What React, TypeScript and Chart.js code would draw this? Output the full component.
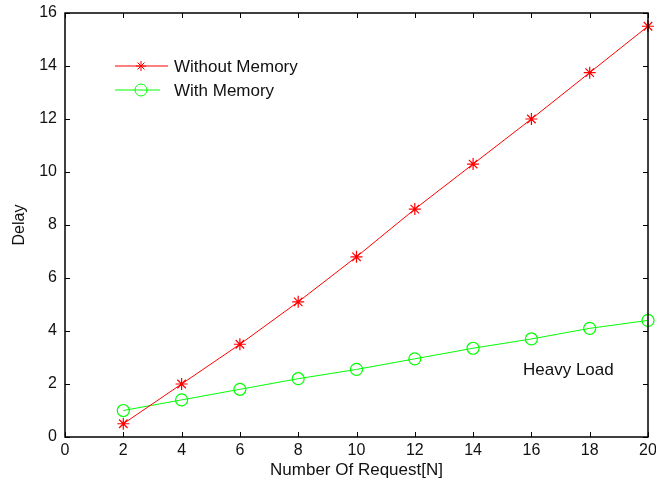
import React, { useEffect, useRef } from "react";
import { Chart, registerables } from "chart.js";

Chart.register(...registerables);

const requests = [2, 4, 6, 8, 10, 12, 14, 16, 18, 20];
const withoutMemory = [0.5, 2.0, 3.5, 5.1, 6.8, 8.6, 10.3, 12.0, 13.75, 15.5];
const withMemory = [1.0, 1.4, 1.8, 2.2, 2.55, 2.95, 3.35, 3.7, 4.1, 4.4];
const xTicks = [0, 2, 4, 6, 8, 10, 12, 14, 16, 18, 20];
const yTicks = [0, 2, 4, 6, 8, 10, 12, 14, 16];
const seriesNames = ["Without Memory", "With Memory"];
const annotationText = "Heavy Load";

const FONT = "'Liberation Sans', Arial, Helvetica, sans-serif";

const framePlugin = {
  id: "frame",
  afterDraw(chart: any) {
    const { ctx, chartArea, scales } = chart;
    const { left, right, top, bottom } = chartArea;
    ctx.save();
    ctx.strokeStyle = "#000";
    ctx.lineWidth = 1;
    const tl = 5;
    ctx.beginPath();
    xTicks.forEach((v) => {
      const px = Math.round(scales.x.getPixelForValue(v)) + 0.5;
      ctx.moveTo(px, bottom);
      ctx.lineTo(px, bottom - tl);
      ctx.moveTo(px, top);
      ctx.lineTo(px, top + tl);
    });
    yTicks.forEach((v) => {
      const py = Math.round(scales.y.getPixelForValue(v)) + 0.5;
      ctx.moveTo(left, py);
      ctx.lineTo(left + tl, py);
      ctx.moveTo(right, py);
      ctx.lineTo(right - tl, py);
    });
    ctx.stroke();
    ctx.lineWidth = 1.5;
    ctx.strokeRect(left, top, right - left, bottom - top);

    // legend
    ctx.font = `17px ${FONT}`;
    ctx.textBaseline = "middle";
    ctx.fillStyle = "#000";
    const rows = [
      { y: 66, x1: 115, x2: 168, color: "#ff0000", star: true, label: seriesNames[0] },
      { y: 90, x1: 115, x2: 160, color: "#00ff00", star: false, label: seriesNames[1] },
    ];
    rows.forEach((r) => {
      ctx.strokeStyle = r.color;
      ctx.lineWidth = 1;
      ctx.beginPath();
      ctx.moveTo(r.x1, r.y);
      ctx.lineTo(r.x2, r.y);
      ctx.stroke();
      const mx = 141;
      ctx.beginPath();
      if (r.star) {
        const s = 5;
        ctx.moveTo(mx - s, r.y);
        ctx.lineTo(mx + s, r.y);
        ctx.moveTo(mx, r.y - s);
        ctx.lineTo(mx, r.y + s);
        const d = s * 0.7;
        ctx.moveTo(mx - d, r.y - d);
        ctx.lineTo(mx + d, r.y + d);
        ctx.moveTo(mx - d, r.y + d);
        ctx.lineTo(mx + d, r.y - d);
      } else {
        ctx.arc(mx, r.y, 6, 0, Math.PI * 2);
      }
      ctx.stroke();
      ctx.fillStyle = "#111";
      ctx.fillText(r.label, 174, r.y + 1);
    });

    ctx.fillStyle = "#111";
    ctx.fillText(annotationText, 523, 370);
    ctx.restore();
  },
};

export default function App() {
  const ref = useRef<HTMLCanvasElement>(null);
  useEffect(() => {
    const chart = new Chart(ref.current!, {
      type: "line",
      data: {
        datasets: [
          {
            label: seriesNames[0],
            data: requests.map((x, i) => ({ x, y: withoutMemory[i] })),
            borderColor: "#ff0000",
            backgroundColor: "#ff0000",
            borderWidth: 1,
            pointStyle: "star",
            pointRadius: 6,
            pointBorderWidth: 1.2,
            pointBorderColor: "#ff0000",
            clip: false as any,
            tension: 0,
          },
          {
            label: seriesNames[1],
            data: requests.map((x, i) => ({ x, y: withMemory[i] })),
            borderColor: "#00ff00",
            backgroundColor: "rgba(0,0,0,0)",
            borderWidth: 1,
            pointStyle: "circle",
            pointRadius: 6,
            pointBorderWidth: 1.2,
            pointBorderColor: "#00ff00",
            clip: false as any,
            tension: 0,
          },
        ],
      },
      options: {
        animation: false,
        responsive: false,
        layout: { padding: { top: 13, right: 8, left: 0, bottom: 0 } },
        plugins: { legend: { display: false }, tooltip: { enabled: false } },
        scales: {
          x: {
            type: "linear",
            min: 0,
            max: 20,
            afterBuildTicks: (s: any) => {
              s.ticks = xTicks.map((v) => ({ value: v }));
            },
            afterFit: (s: any) => {
              s.height = 48;
              s.paddingLeft = 0;
              s.paddingRight = 0;
            },
            grid: { display: false, drawTicks: false },
            border: { display: false },
            ticks: {
              color: "#111",
              font: { family: FONT, size: 16 },
              padding: 4,
              maxRotation: 0,
            },
            title: {
              display: true,
              text: "Number Of Request[N]",
              color: "#111",
              font: { family: FONT, size: 17 },
              padding: { top: 0, bottom: 4 },
            },
          },
          y: {
            type: "linear",
            min: 0,
            max: 16,
            afterBuildTicks: (s: any) => {
              s.ticks = yTicks.map((v) => ({ value: v }));
            },
            afterFit: (s: any) => {
              s.width = 65;
              s.paddingTop = 0;
              s.paddingBottom = 0;
            },
            grid: { display: false, drawTicks: false },
            border: { display: false },
            ticks: {
              color: "#111",
              font: { family: FONT, size: 16 },
              padding: 8,
            },
            title: {
              display: true,
              text: "Delay",
              color: "#111",
              font: { family: FONT, size: 16 },
              padding: { top: 10, bottom: 0 },
            },
          },
        },
      },
      plugins: [framePlugin],
    });
    return () => chart.destroy();
  }, []);
  return (
    <div style={{ position: "absolute", left: 0, top: 0, width: 656, height: 485, background: "#fff" }}>
      <canvas ref={ref} width={656} height={485} style={{ width: 656, height: 485, display: "block" }} />
    </div>
  );
}
